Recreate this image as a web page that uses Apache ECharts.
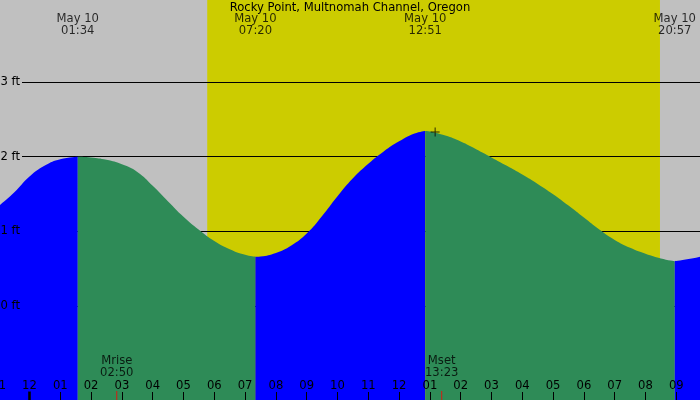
<!DOCTYPE html>
<html><head><meta charset="utf-8">
<script src="https://cdn.jsdelivr.net/npm/echarts@6/dist/echarts.min.js"></script>
<style>html,body{margin:0;padding:0;background:#c0c0c0}#c{width:700px;height:400px}</style>
</head><body><div id="c"></div>
<script>
const chartTitle = 'Rocky Point, Multnomah Channel, Oregon';
// hours after midnight, May 10
const tideHours = [-1, -0.5, 0, 0.5, 1, 1.567, 2, 2.5, 3, 3.5, 4, 4.5, 5, 5.5, 6, 6.5, 7, 7.333, 7.5, 8, 8.5, 9, 9.5, 10, 10.5, 11, 11.5, 12, 12.5, 12.85, 13, 13.5, 14, 14.5, 15, 15.5, 16, 16.5, 17, 17.5, 18, 18.5, 19, 19.5, 20, 20.5, 20.95, 21.5, 22];
// tide height, ft
const tideFeet = [1.34, 1.519, 1.734, 1.882, 1.966, 2.00, 1.990, 1.958, 1.898, 1.795, 1.61, 1.40, 1.195, 1.02, 0.87, 0.76, 0.685, 0.66, 0.664, 0.71, 0.81, 0.97, 1.205, 1.47, 1.71, 1.905, 2.07, 2.205, 2.31, 2.345, 2.337, 2.282, 2.203, 2.10, 1.99, 1.877, 1.76, 1.635, 1.497, 1.345, 1.185, 1.025, 0.885, 0.78, 0.70, 0.637, 0.60, 0.635, 0.685];
const extremeHours = [1.567, 7.333, 12.85, 20.95];
const extremeLabels = ['May 10\n01:34', 'May 10\n07:20', 'May 10\n12:51', 'May 10\n20:57'];
const sunHours = [5.77, 20.47];
const moonHours = [2.833, 13.383];
const moonLabels = ['Mrise\n02:50', 'Mset\n13:23'];
const midnightHours = [0];
const markerPoint = [13.17, 2.33];
const hourMin = -1, hourMax = 22;
const ftTicks = [0, 3];

const FONT = 'DejaVu Sans';
const FS = 11.6;
const GL = -1.3, GR = -7.1;

// split tide curve into rising / falling segments at extremes
const bounds = [hourMin, ...extremeHours, hourMax];
const segs = [];
for (let i = 0; i < bounds.length - 1; i++) {
  const pts = [];
  tideHours.forEach((h, j) => { if (h >= bounds[i] - 1e-9 && h <= bounds[i + 1] + 1e-9) pts.push([h, tideFeet[j]]); });
  segs.push(pts);
}
const segSeries = segs.map(pts => {
  const rising = pts[pts.length - 1][1] > pts[0][1];
  return {
    type: 'line', xAxisIndex: 0, yAxisIndex: 0, data: pts, smooth: 0.5,
    symbol: 'none', lineStyle: { width: 0 }, silent: true,
    areaStyle: { color: rising ? '#0000ff' : '#2e8b57', opacity: 1, origin: 'start' },
    z: 3
  };
});

const hourFmt = v => { let h = ((v % 12) + 12) % 12; if (h === 0) h = 12; return String(h).padStart(2, '0'); };
const G = (o) => Object.assign({ outerBoundsMode: 'none', containLabel: false }, o);

const chart = echarts.init(document.getElementById('c'), null, { renderer: 'canvas' });
chart.setOption({
  animation: false,
  backgroundColor: '#c0c0c0',
  textStyle: { fontFamily: FONT },
  title: { text: chartTitle, left: 'center', top: 2, padding: 0,
    textStyle: { fontFamily: FONT, fontSize: FS, fontWeight: 'normal', color: '#000' } },
  grid: [
    G({ left: GL, right: GR, top: 0, bottom: 0 }),          // 0: tide area
    G({ left: GL, right: GR, top: 0, bottom: 0 }),          // 1: hour axis & labels
    G({ left: 22, right: 0, top: 82, bottom: 94 }),         // 2: grid lines
    G({ left: 22, right: 0, top: 82, bottom: 94 })          // 3: ft labels
  ],
  xAxis: [
    { gridIndex: 0, type: 'value', min: hourMin, max: hourMax, show: false },
    { gridIndex: 1, type: 'value', min: hourMin, max: hourMax, interval: 1, position: 'bottom', z: 10,
      axisLine: { show: false }, splitLine: { show: false },
      axisTick: { show: true, inside: true, length: 8, lineStyle: { color: '#000', width: 1 } },
      axisLabel: { inside: true, margin: 8, formatter: hourFmt, color: '#000', fontSize: FS, fontFamily: FONT, showMinLabel: true, showMaxLabel: true } },
    { gridIndex: 2, type: 'value', min: hourMin, max: hourMax, show: false },
    { gridIndex: 3, type: 'value', min: hourMin, max: hourMax, show: false }
  ],
  yAxis: [
    { gridIndex: 0, type: 'value', min: -94 / 74.667, max: 306 / 74.667, show: false },
    { gridIndex: 1, type: 'value', min: 0, max: 1, show: false },
    { gridIndex: 2, type: 'value', min: ftTicks[0], max: ftTicks[1], interval: 1, z: 2,
      axisLine: { show: false }, axisTick: { show: false }, axisLabel: { show: false },
      splitLine: { show: true, lineStyle: { color: '#000', width: 1 } } },
    { gridIndex: 3, type: 'value', min: ftTicks[0], max: ftTicks[1], interval: 1, z: 10,
      axisLine: { show: false }, axisTick: { show: false }, splitLine: { show: false },
      axisLabel: { margin: 2, formatter: v => v + ' ft', color: '#000', fontSize: FS, fontFamily: FONT } }
  ],
  series: [
    { type: 'line', xAxisIndex: 0, yAxisIndex: 0, data: [], z: 1, silent: true,
      markArea: { silent: true, z: 1, itemStyle: { color: '#cccc00', opacity: 1 },
        data: [[{ xAxis: sunHours[0] }, { xAxis: sunHours[1] }]] } },
    ...segSeries,
    { type: 'scatter', xAxisIndex: 0, yAxisIndex: 0, data: [markerPoint], z: 12, silent: true,
      symbol: 'path://M0,4h9v1h-9z M4,0h1v9h-1z', symbolSize: 9, itemStyle: { color: '#000' } },
    { type: 'scatter', xAxisIndex: 1, yAxisIndex: 1, data: midnightHours.map(h => [h, 0]), z: 12, silent: true,
      symbol: 'rect', symbolSize: [3, 17], itemStyle: { color: '#000' } },
    { type: 'scatter', xAxisIndex: 1, yAxisIndex: 1, data: moonHours.map(h => [h, 0]), z: 12, silent: true,
      symbol: 'rect', symbolSize: [1, 18], itemStyle: { color: '#ff0000' } },
    { type: 'scatter', xAxisIndex: 1, yAxisIndex: 1, data: moonHours.map((h, i) => ({ value: [h, 0], name: moonLabels[i] })),
      z: 12, silent: true, symbolSize: 0,
      label: { show: true, position: 'inside', offset: [0, -33], formatter: p => p.name, color: '#000', fontSize: FS, fontFamily: FONT, lineHeight: 12 } },
    { type: 'scatter', xAxisIndex: 1, yAxisIndex: 1, data: extremeHours.map((h, i) => ({ value: [h, 1], name: extremeLabels[i] })),
      z: 12, silent: true, symbolSize: 0,
      label: { show: true, position: 'inside', offset: [0, 25], formatter: p => p.name, color: '#000', fontSize: FS, fontFamily: FONT, lineHeight: 12 } }
  ]
});
</script></body></html>
